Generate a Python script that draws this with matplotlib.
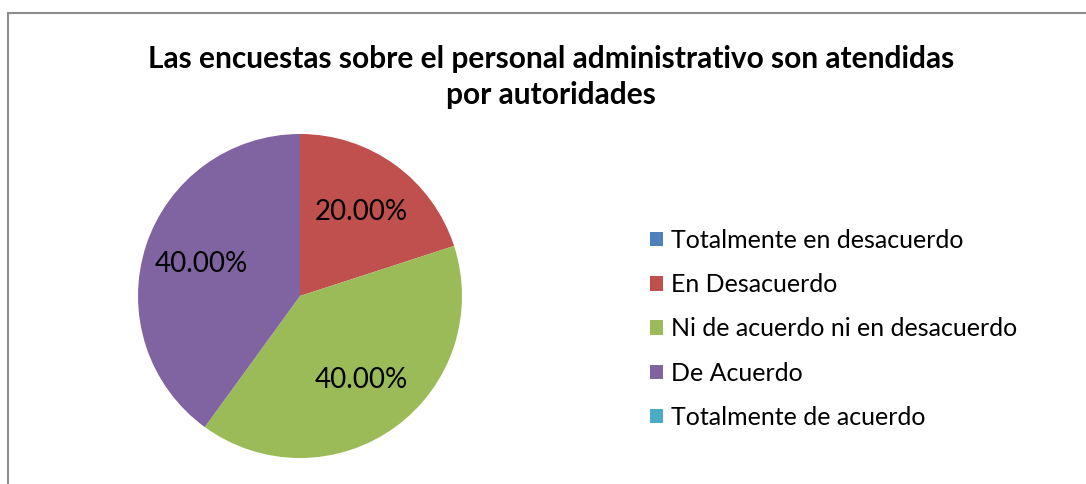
import matplotlib.pyplot as plt
from matplotlib.patches import Rectangle, Patch

plt.rcParams['font.family'] = ['Lato', 'DejaVu Sans']

# data
categorias = ["Totalmente en desacuerdo", "En Desacuerdo",
              "Ni de acuerdo ni en desacuerdo", "De Acuerdo",
              "Totalmente de acuerdo"]
porcentajes = [0.0, 0.20, 0.40, 0.40, 0.0]
colores = ["#4F81BD", "#C0504D", "#9BBB59", "#8064A2", "#4BACC6"]
titulo = "Las encuestas sobre el personal administrativo son atendidas\npor autoridades"

W, H = 1086, 484
fig = plt.figure(figsize=(W / 100, H / 100), dpi=100)

# chart border (clipped at right and bottom like the original)
fig.patches.append(Rectangle((8 / W, -0.1), 1.2, (H - 13) / H + 0.1,
                             transform=fig.transFigure, fill=False,
                             edgecolor="#8C8C8C", linewidth=1.5))

fig.text(551 / W, 1 - 77 / H, titulo, ha="center", va="center",
         fontsize=21.5, fontweight="bold", linespacing=1.35)

cx, cy, r = 300, 296, 162
ax = fig.add_axes([(cx - r) / W, (H - cy - r) / H, 2 * r / W, 2 * r / H])
ax.pie(porcentajes, colors=colores, startangle=90, counterclock=False,
       autopct=lambda p: f"{p:.2f}%" if p > 0 else "",
       pctdistance=0.64, textprops={"fontsize": 20})
ax.set_xlim(-1, 1)
ax.set_ylim(-1, 1)
ax.set_aspect("equal")
ax.axis("off")

handles = [Patch(facecolor=c, edgecolor="none") for c in colores]
fig.legend(handles, categorias, loc="upper left",
           bbox_to_anchor=(650 / W, 1 - 229 / H), frameon=False,
           borderpad=0, borderaxespad=0,
           fontsize=18, handlelength=0.52, handleheight=0.52,
           handletextpad=0.32, labelspacing=0.85)

fig.savefig("out.png", dpi=100)
